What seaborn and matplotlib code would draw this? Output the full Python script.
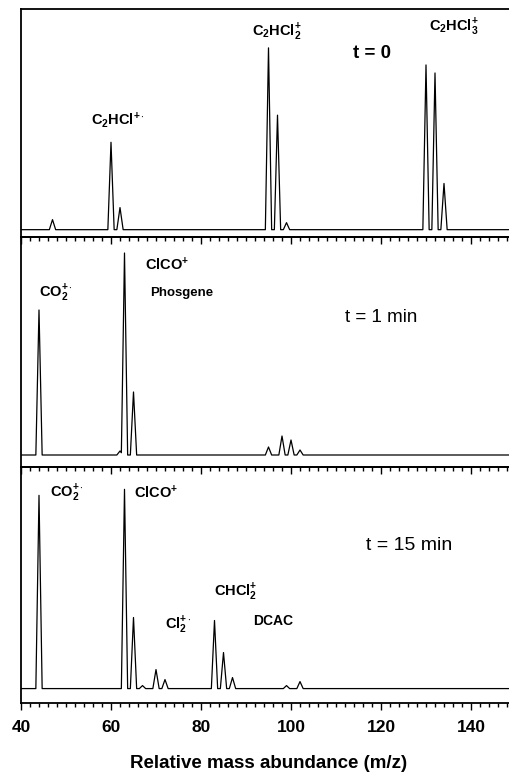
import numpy as np
import matplotlib
matplotlib.use("Agg")
import matplotlib.pyplot as plt
import matplotlib.ticker as mtick
import pandas as pd
import seaborn as sns

# peak positions (m/z) and heights (arbitrary units)
t0_mz = [47, 60, 62, 95, 97, 99, 130, 132, 134]
t0_height = [10, 87, 22, 181, 114, 7, 164, 156, 46]

t1_mz = [44, 62, 63, 65, 95, 98, 100, 102]
t1_height = [145, 4, 202, 63, 8, 19, 15, 5]

t15_mz = [44, 63, 65, 67, 70, 72, 83, 85, 87, 99, 102]
t15_height = [193, 199, 71, 3, 19, 9, 68, 36, 11, 3, 7]

x_ticks = [40, 60, 80, 100, 120, 140]

sns.set_style("ticks")
plt.rcParams['font.family'] = ['Liberation Sans', 'DejaVu Sans']
plt.rcParams['text.color'] = 'black'
plt.rcParams['xtick.color'] = 'black'
plt.rcParams['xtick.labelcolor'] = 'black'
plt.rcParams['axes.labelcolor'] = 'black'
plt.rcParams['mathtext.fontset'] = 'custom'
plt.rcParams['mathtext.rm'] = 'Liberation Sans'
plt.rcParams['mathtext.bf'] = 'Liberation Sans:bold'
plt.rcParams['mathtext.it'] = 'Liberation Sans:italic'


def spectrum(mz, height, width=0.7):
    # turn the stick list into a line with narrow triangular peaks
    x = np.arange(38, 152, 0.05)
    y = np.zeros_like(x)
    for m, h in zip(mz, height):
        y = np.maximum(y, h * np.clip(1 - np.abs(x - m) / width, 0, None))
    return pd.DataFrame({"mz": x, "abundance": y})


fig = plt.figure(figsize=(5.10, 7.76), dpi=100)
left = 21 / 510
width = 110 * 4.5 / 510
panels = [
    (t0_mz, t0_height, (1 - 237 / 776, 228 / 776), (-7.3, 219.7)),
    (t1_mz, t1_height, (1 - 467 / 776, 230 / 776), (-12, 218)),
    (t15_mz, t15_height, (1 - 703 / 776, 236 / 776), (-14.4, 221.3)),
]

axes = []
for i, (mz, height, (bottom, h), ylim) in enumerate(panels):
    ax = fig.add_axes([left, bottom, width, h], zorder=10 - i)
    ax.patch.set_visible(False)
    df = spectrum(mz, height)
    sns.lineplot(data=df, x="mz", y="abundance", ax=ax, color="black",
                 lw=0.9, estimator=None)
    ax.set_xlim(40, 150)
    ax.set_ylim(*ylim)
    ax.set_yticks([])
    ax.set_xlabel("")
    ax.set_ylabel("")
    ax.xaxis.set_major_locator(mtick.FixedLocator(x_ticks))
    ax.xaxis.set_minor_locator(mtick.MultipleLocator(2))
    ax.tick_params(axis="x", which="both", direction="out", top=False, bottom=True,
                   labelbottom=False, width=1, color="black")
    ax.tick_params(axis="x", which="major", length=5)
    ax.tick_params(axis="x", which="minor", length=3)
    for s in ax.spines.values():
        s.set_linewidth(1.3)
        s.set_color("black")
    axes.append(ax)

ax1, ax2, ax3 = axes
lab = dict(fontsize=10.5, ha="center", va="center")
big = dict(fontsize=13.5, ha="center", va="center")

# t = 0
ax1.text(61.6, 219.7 - (120 - 9), r'$\mathbf{C_2HCl^{+\cdot}}$', **lab)
ax1.text(96.9, 219.7 - (32 - 9), r'$\mathbf{C_2HCl_2^{+}}$', **lab)
ax1.text(136.2, 219.7 - (27 - 9), r'$\mathbf{C_2HCl_3^{+}}$', **lab)
ax1.text(118, 219.7 - (53 - 9), "t = 0", fontweight="bold", **big)

# t = 1 min
ax2.text(47.8, 218 - (293 - 237), r'$\mathbf{CO_2^{+\cdot}}$', **lab)
ax2.text(72.4, 218 - (265 - 237), r'$\mathbf{ClCO^{+}}$', **lab)
ax2.text(68.7, 218 - (293 - 237), "Phosgene", fontsize=9.5, fontweight="bold",
         ha="left", va="center")
ax2.text(120, 218 - (318 - 237), "t = 1 min", **big)

# t = 15 min
ax3.text(50.3, 221.3 - (493 - 467), r'$\mathbf{CO_2^{+\cdot}}$', **lab)
ax3.text(70, 221.3 - (493 - 467), r'$\mathbf{ClCO^{+}}$', **lab)
ax3.text(74.9, 221.3 - (625 - 467), r'$\mathbf{Cl_2^{+\cdot}}$', **lab)
ax3.text(87.7, 221.3 - (592 - 467), r'$\mathbf{CHCl_2^{+}}$', **lab)
ax3.text(96, 221.3 - (621 - 467), "DCAC", fontsize=10, fontweight="bold",
         ha="center", va="center")
ax3.text(126.2, 221.3 - (545 - 467), "t = 15 min", fontsize=14,
         ha="center", va="center")

ax3.tick_params(axis="x", labelbottom=True, labelsize=12.5, pad=7)
for t in ax3.get_xticklabels():
    t.set_fontweight("bold")
ax3.set_xlabel("Relative mass abundance (m/z)", fontsize=13.5,
               fontweight="bold", labelpad=15)

fig.savefig("out.png", dpi=100)
